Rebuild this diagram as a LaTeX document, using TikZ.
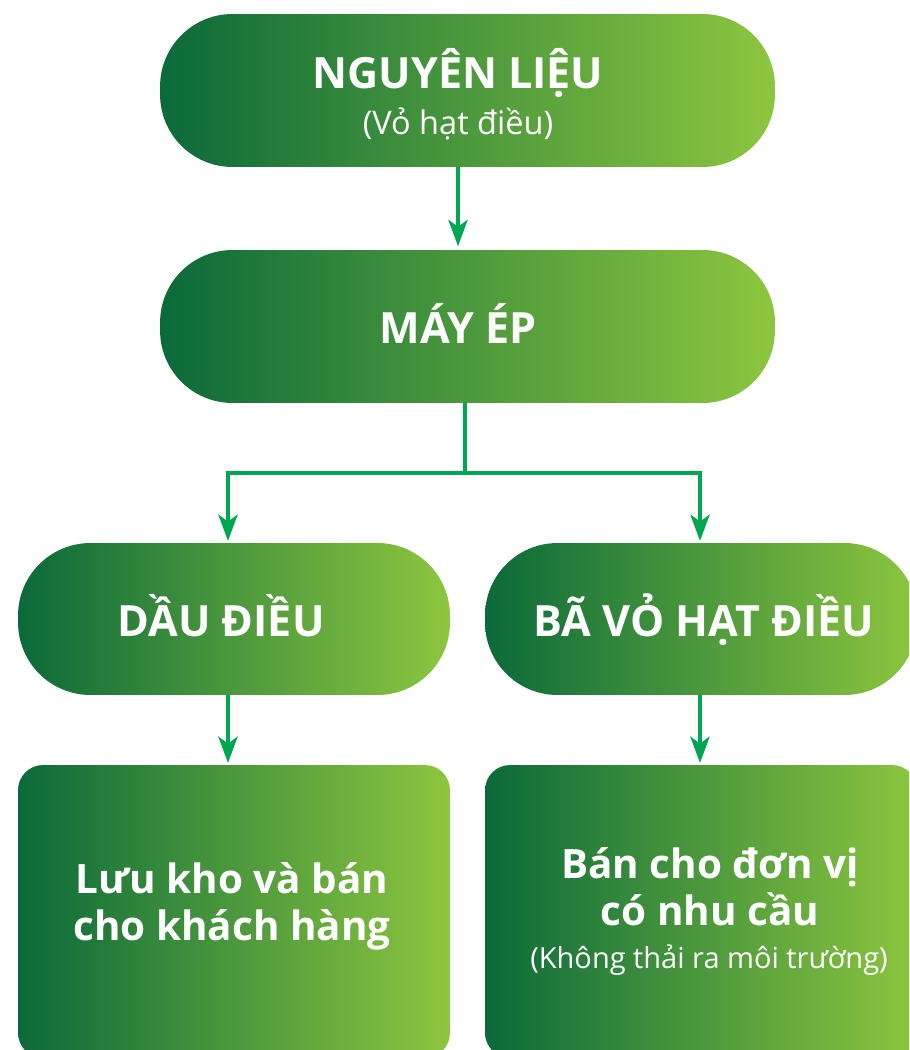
\documentclass[tikz,border=0pt]{standalone}
\usepackage{fontspec}
\setmainfont{Open Sans}
\usetikzlibrary{arrows.meta,calc}
\definecolor{gdark}{HTML}{0B6A3A}
\definecolor{glight}{HTML}{8DC63F}
\definecolor{arrowg}{HTML}{00A651}
\tikzset{
  pill/.style={draw=none, left color=gdark, right color=glight, rounded corners=1.45cm, inner sep=0pt},
  pillwide/.style={pill, minimum width=12.3cm, minimum height=3.06cm},
  pillmid/.style={pill, minimum width=8.64cm, minimum height=3.04cm},
  card/.style={draw=none, left color=gdark, right color=glight, rounded corners=0.5cm, inner sep=0pt, minimum width=8.64cm, minimum height=5.86cm},
  ttl/.style={text=white, anchor=base, inner sep=0pt, font=\bfseries\fontsize{24.5}{28}\selectfont},
  body/.style={text=white, anchor=base, inner sep=0pt, font=\bfseries\fontsize{23}{27}\selectfont},
  sub/.style={text=white, anchor=base, inner sep=0pt, font=\fontsize{16.5}{19}\selectfont},
  conn/.style={draw=arrowg, line width=1.8pt},
  arr/.style={conn, -{Stealth[length=15pt,width=11pt,inset=4pt]}},
}
\begin{document}
\begin{tikzpicture}[x=0.02cm,y=-0.02cm]
\path[use as bounding box, clip] (0,0) rectangle (909,1050);
% boxes
\node[pillwide] (b1) at (467.5,90.5) {};
\node[pillwide] (b2) at (467.5,326.5) {};
\node[pillmid] (b3) at (234,619) {};
\node[pillmid] (b4) at (701,619) {};
\node[card] (b5) at (234,911.5) {};
\node[card] (b6) at (701,911.5) {};
% texts
\node[ttl] (t1) at (458,89) {NGUYÊN LIỆU};
\node[sub, font=\fontsize{18.5}{22}\selectfont] (t1s) at (458,135) {(Vỏ hạt điều)};
\node[ttl] (t2) at (458,344) {MÁY ÉP};
\node[ttl] (t3) at (221,636) {DẦU ĐIỀU};
\node[ttl] (t4) at (704,636) {BÃ VỎ HẠT ĐIỀU};
\node[body] (t5a) at (232,893) {Lưu kho và bán};
\node[body] (t5b) at (232,940) {cho khách hàng};
\node[body] (t6a) at (710,878) {Bán cho đơn vị};
\node[body] (t6b) at (710,925) {có nhu cầu};
\node[sub] (t6c) at (709,968) {(Không thải ra môi trường)};
% connectors
\coordinate (c458) at (458,0);
\coordinate (c228) at (228,0);
\coordinate (c700) at (700,0);
\coordinate (j) at (465,473);
\draw[arr] (b1.south -| c458) -- ([yshift=2pt]b2.north -| c458);
\draw[conn] (b2.south -| j) -- (j);
\draw[arr] (j) -| ([yshift=1pt]b3.north -| c228);
\draw[arr] (j) -| ([yshift=1pt]b4.north -| c700);
\draw[arr] (b3.south -| c228) -- ([yshift=1pt]b5.north -| c228);
\draw[arr] (b4.south -| c700) -- ([yshift=1pt]b6.north -| c700);
\end{tikzpicture}
\end{document}
